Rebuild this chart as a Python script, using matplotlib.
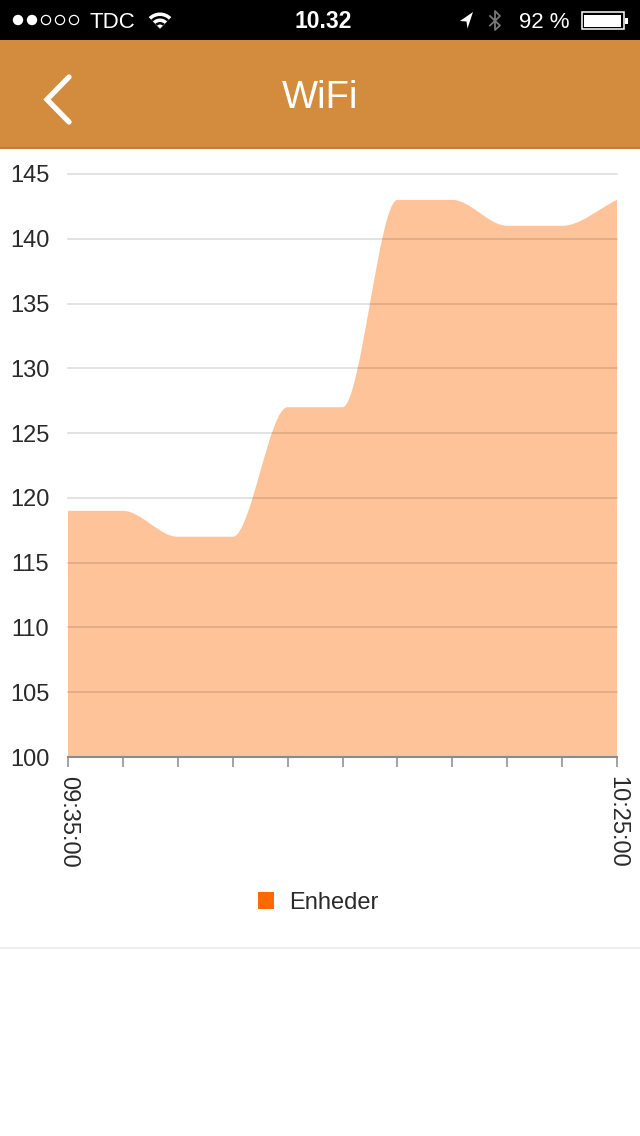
import numpy as np
import matplotlib
matplotlib.use("Agg")
import matplotlib.pyplot as plt
from matplotlib.path import Path
from matplotlib.patches import PathPatch, Rectangle, Circle, Wedge, Patch
from matplotlib.lines import Line2D

plt.rcParams['font.family'] = ['Liberation Sans', 'DejaVu Sans']

# ---- data ----
times = ["09:35:00", "09:40:00", "09:45:00", "09:50:00", "09:55:00", "10:00:00",
         "10:05:00", "10:10:00", "10:15:00", "10:20:00", "10:25:00"]
enheder = [119, 119, 117, 117, 127, 127, 143, 143, 141, 141, 143]
y_ticks = [100, 105, 110, 115, 120, 125, 130, 135, 140, 145]
series_label = "Enheder"
title = "WiFi"

W, H = 640, 1136
fig = plt.figure(figsize=(W / 100, H / 100), dpi=100)
fig.patch.set_facecolor('white')

# ---- UI overlay (pixel coordinates) ----
ui = fig.add_axes([0, 0, 1, 1])
ui.set_xlim(0, W)
ui.set_ylim(H, 0)
ui.axis('off')

# status bar
ui.add_patch(Rectangle((0, 0), W, 40, facecolor='black', edgecolor='none'))
for i, cx in enumerate([18, 32, 46, 60, 74]):
    if i < 2:
        ui.add_patch(Circle((cx, 20), 5.2, facecolor='white', edgecolor='none'))
    else:
        ui.add_patch(Circle((cx, 20), 4.6, facecolor='none', edgecolor='white', lw=0.9))
ui.text(89, 22, "TDC", color='white', fontsize=16, va='center', ha='left')
# wifi icon
for r, c in [(16, 'white'), (12.5, 'black'), (10, 'white'), (6.5, 'black'), (4, 'white')]:
    ui.add_patch(Wedge((160, 28.5), r, 225, 315, facecolor=c, edgecolor='none'))
ui.text(323, 22, "10.32", color='white', fontsize=16.5, fontweight='bold', va='center', ha='center')
# location arrow
ui.add_patch(plt.Polygon([(473, 12), (460, 21), (466.5, 21.5), (467.5, 28.5)], closed=True,
                         facecolor='white', edgecolor='none'))
# bluetooth
ui.add_line(Line2D([490, 500, 495, 495, 500, 490], [16, 25.5, 30, 11, 16, 25.5],
                   color='#777777', lw=1.3))
ui.text(519, 22, "92 %", color='white', fontsize=16, va='center', ha='left')
# battery
ui.add_patch(Rectangle((581.5, 12), 42, 17, facecolor='none', edgecolor='white', lw=1.1))
ui.add_patch(Rectangle((584, 14.5), 37, 12, facecolor='white', edgecolor='none'))
ui.add_patch(Rectangle((625, 18), 2.5, 5.5, facecolor='white', edgecolor='none'))

# header
ui.add_patch(Rectangle((0, 40), W, 108, facecolor='#D38B3E', edgecolor='none'))
ui.add_patch(Rectangle((0, 147), W, 2, facecolor='#C07D38', edgecolor='none'))
ui.text(320, 98.5, title, color='white', fontsize=27.5, va='center', ha='center')
ui.add_line(Line2D([69, 47, 69], [77, 99.5, 122], color='white', lw=3.8,
                   solid_capstyle='round', solid_joinstyle='miter'))

# separator
ui.add_line(Line2D([0, W], [948, 948], color='#efefef', lw=1.5))

# ---- chart ----
left, right, top, bottom = 68, 617, 174, 757
ax = fig.add_axes([left / W, 1 - bottom / H, (right - left) / W, (bottom - top) / H])
ax.set_facecolor('none')
n = len(enheder)
xs = np.arange(n, dtype=float)
ys = np.array(enheder, dtype=float)
ax.set_xlim(0, n - 1)
ax.set_ylim(y_ticks[0], y_ticks[-1])

# monotone cubic tangents (Chart.js style) -> Bezier path
d = np.diff(ys) / np.diff(xs)
m = np.zeros(n)
m[0] = d[0]
m[-1] = d[-1]
for k in range(1, n - 1):
    if d[k - 1] == 0 or d[k] == 0 or np.sign(d[k - 1]) != np.sign(d[k]):
        m[k] = 0
    else:
        m[k] = (d[k - 1] + d[k]) / 2
for k in range(n - 1):
    if d[k] == 0:
        continue
    a, b = m[k] / d[k], m[k + 1] / d[k]
    s = a * a + b * b
    if s > 9:
        t = 3 / np.sqrt(s)
        m[k] = t * a * d[k]
        m[k + 1] = t * b * d[k]
for k in range(n - 1):
    if d[k] == 0:
        m[k] = 0
        m[k + 1] = 0

verts = [(xs[0], y_ticks[0]), (xs[0], ys[0])]
codes = [Path.MOVETO, Path.LINETO]
for k in range(n - 1):
    dx = xs[k + 1] - xs[k]
    verts += [(xs[k] + dx / 3, ys[k] + m[k] * dx / 3),
              (xs[k + 1] - dx / 3, ys[k + 1] - m[k + 1] * dx / 3),
              (xs[k + 1], ys[k + 1])]
    codes += [Path.CURVE4] * 3
verts += [(xs[-1], y_ticks[0]), (xs[0], y_ticks[0])]
codes += [Path.LINETO, Path.CLOSEPOLY]
ax.add_patch(PathPatch(Path(verts, codes), facecolor=(1, 106 / 255, 0, 0.4),
                       edgecolor='none', zorder=1, label=series_label))

# gridlines on top
for yv in y_ticks[1:]:
    ax.axhline(yv, color=(0, 0, 0, 0.13), lw=1.2, zorder=2, clip_on=False)

for s in ['top', 'right', 'left']:
    ax.spines[s].set_visible(False)
ax.spines['bottom'].set_color('#8a8a8a')
ax.spines['bottom'].set_linewidth(1.5)
ax.spines['bottom'].set_zorder(3)

ax.set_yticks(y_ticks)
ax.set_yticklabels([str(v) for v in y_ticks])
ax.tick_params(axis='y', length=0, pad=13.5, labelsize=17, labelcolor='#2a2a2a')

ax.set_xticks(xs)
ax.set_xticklabels([t if i in (0, n - 1) else "" for i, t in enumerate(times)],
                   rotation=270, va='top', ha='center')
ax.tick_params(axis='x', direction='out', length=7, width=1.1, color='#8a8a8a',
               pad=7, labelsize=17, labelcolor='#2a2a2a')

fig.legend(handles=[Patch(facecolor='#FF6A00', edgecolor='none', label=series_label)],
           loc='center', bbox_to_anchor=(318 / W, 1 - 903 / H), frameon=False,
           fontsize=17, handlelength=0.7, handleheight=0.7, handletextpad=0.6,
           labelcolor='#2a2a2a')

fig.savefig("out.png", dpi=100, facecolor='white')
